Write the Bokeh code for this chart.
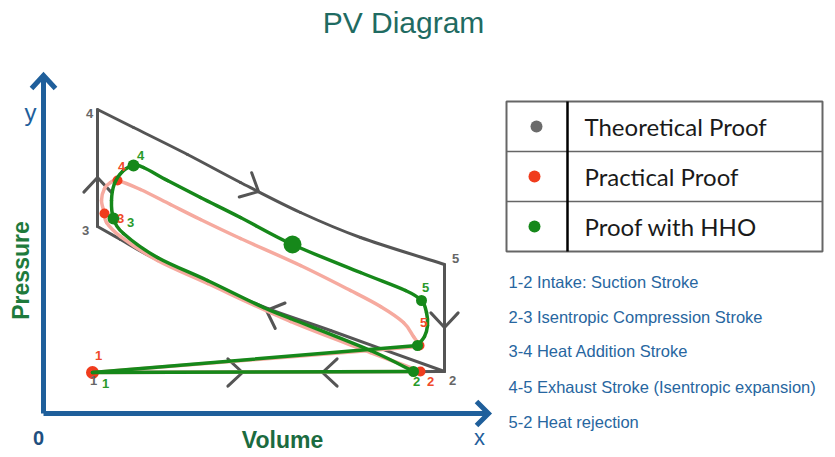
import math
from bokeh.plotting import figure
from bokeh.models import Range1d, ColumnDataSource
from bokeh.core.properties import value
from bokeh.embed import file_html
from bokeh.resources import INLINE

# ---------------- data (volume V, pressure P; arbitrary units) ----------------
# Theoretical proof (gray)
theo_intake_v = [49, 401]
theo_intake_p = [41, 42]
theo_comp_v = [401, 287, 224, 157, 107, 77, 54]
theo_comp_p = [42, 83, 105, 134, 157, 174, 187]
theo_heat_v = [54, 54]
theo_heat_p = [187, 304]
theo_exp_v = [54, 90, 144, 197, 257, 317, 401]
theo_exp_p = [304, 286, 259, 231, 201, 176, 149]
theo_rej_v = [401, 401]
theo_rej_p = [149, 42]
theo_arrow_v = [54, 215, 401, 199, 279, 223]
theo_arrow_p = [236, 222, 86, 41, 41, 103]
theo_arrow_dir = [90, -27, -90, 0, 180, 159]

# Practical proof (salmon / red)
prac_intake_v = [49, 377]
prac_intake_p = [41, 42]
prac_cycle_v = [377, 327, 247, 164, 114, 77, 63, 61, 58, 61, 67, 74, 97, 127, 157, 197, 257, 307, 337, 360, 370, 376]
prac_cycle_p = [42, 61, 92, 130, 153, 177, 191, 200, 213, 225, 231, 233, 224, 209, 194, 175, 148, 123, 107, 91, 77, 68]
prac_exhaust_v = [376, 49]
prac_exhaust_p = [67, 41]
prac_dot_v = [49, 61, 74, 376, 377]
prac_dot_p = [41, 200, 233, 68, 42]

# Proof with HHO (green)
hho_intake_v = [49, 370]
hho_intake_p = [41, 42]
hho_cycle_v = [370, 327, 247, 220, 164, 114, 80, 70, 68, 71, 79, 90, 100, 124, 157, 197, 249, 317, 362, 378, 383, 384, 381, 374]
hho_cycle_p = [42, 63, 95, 106, 133, 156, 180, 195, 213, 230, 242, 248, 246, 233, 216, 196, 169, 141, 123, 113, 101, 88, 77, 68]
hho_exhaust_v = [374, 49]
hho_exhaust_p = [68, 41]
hho_dot_v = [70, 90, 249, 378, 374, 370]
hho_dot_p = [195, 248, 169, 113, 68, 42]

# point labels
point_names = ["1", "2", "3", "4", "5"]
theo_lbl_v = [50, 409, 42, 46, 412]
theo_lbl_p = [33, 33, 183, 300, 155]
prac_lbl_v = [55, 387, 77, 78, 380]
prac_lbl_p = [58, 32, 195, 247, 91]
hho_lbl_v = [62, 373, 87, 97, 382]
hho_lbl_p = [30, 32, 191, 258, 126]

legend_labels = ["Theoretical Proof", "Practical  Proof", "Proof with HHO"]
step_labels = [
    "1-2 Intake: Suction Stroke",
    "2-3 Isentropic Compression Stroke",
    "3-4 Heat Addition Stroke",
    "4-5 Exhaust Stroke (Isentropic expansion)",
    "5-2 Heat rejection",
]

# ---------------- styles ----------------
GRAY = "#555555"
SALMON = "#f6aa9f"
RED = "#f03c1d"
GREEN = "#16881a"
AXIS = "#1f5f9b"
FONT = "Liberation Sans"

p = figure(width=835, height=457, x_range=Range1d(-43, 792), y_range=Range1d(-44, 413),
           output_backend="svg", toolbar_location=None, min_border=0,
           x_axis_type=None, y_axis_type=None)
p.grid.visible = False
p.outline_line_color = None
p.background_fill_color = "white"
p.border_fill_color = "white"


def smooth(v, pr):
    pts = list(zip(v, pr))
    n = len(pts)
    d = dict(x0=[], y0=[], x1=[], y1=[], cx0=[], cy0=[], cx1=[], cy1=[])
    for i in range(n - 1):
        pm = pts[i - 1] if i > 0 else pts[i]
        a = pts[i]
        b = pts[i + 1]
        pn = pts[i + 2] if i + 2 < n else pts[i + 1]
        d["x0"].append(a[0]); d["y0"].append(a[1])
        d["x1"].append(b[0]); d["y1"].append(b[1])
        d["cx0"].append(a[0] + (b[0] - pm[0]) / 6.0)
        d["cy0"].append(a[1] + (b[1] - pm[1]) / 6.0)
        d["cx1"].append(b[0] - (pn[0] - a[0]) / 6.0)
        d["cy1"].append(b[1] - (pn[1] - a[1]) / 6.0)
    return ColumnDataSource(d)


def curve(v, pr, color, width):
    p.bezier(x0="x0", y0="y0", x1="x1", y1="y1", cx0="cx0", cy0="cy0", cx1="cx1", cy1="cy1",
             source=smooth(v, pr), line_color=color, line_width=width, line_cap="round")


def straight(v, pr, color, width):
    p.line(v, pr, line_color=color, line_width=width, line_cap="round", line_join="round")


# ---- axes (arrows) ----
p.line([0, 445], [0, 0], line_color=AXIS, line_width=5)
p.line([0, 0], [0, 338], line_color=AXIS, line_width=5)
p.line([-12, 0, 12], [325, 338, 325], line_color=AXIS, line_width=5, line_join="miter")
p.line([433, 445, 433], [12, 0, -12], line_color=AXIS, line_width=5, line_join="miter")

# ---- theoretical (gray) ----
for v, pr in [(theo_intake_v, theo_intake_p), (theo_heat_v, theo_heat_p), (theo_rej_v, theo_rej_p)]:
    straight(v, pr, GRAY, 3)
curve(theo_comp_v, theo_comp_p, GRAY, 3)
curve(theo_exp_v, theo_exp_p, GRAY, 3)
arm, half = 20, 43
axs, ays = [], []
for v, pr, d in zip(theo_arrow_v, theo_arrow_p, theo_arrow_dir):
    a1 = math.radians(d + 180 - half)
    a2 = math.radians(d + 180 + half)
    axs.append([v + arm * math.cos(a1), v, v + arm * math.cos(a2)])
    ays.append([pr + arm * math.sin(a1), pr, pr + arm * math.sin(a2)])
p.multi_line(axs, ays, line_color=GRAY, line_width=3, line_cap="round")

# ---- practical (salmon) ----
straight(prac_intake_v, prac_intake_p, SALMON, 3.5)
straight(prac_exhaust_v, prac_exhaust_p, SALMON, 3.5)
curve(prac_cycle_v, prac_cycle_p, SALMON, 3.5)
p.scatter(prac_dot_v, prac_dot_p, size=[13, 10, 10, 10, 10], fill_color=RED, line_color=None)

# ---- HHO (green) ----
straight(hho_intake_v, hho_intake_p, GREEN, 3.5)
straight(hho_exhaust_v, hho_exhaust_p, GREEN, 3.5)
curve(hho_cycle_v, hho_cycle_p, GREEN, 3.5)
p.scatter(hho_dot_v, hho_dot_p, size=[12, 12, 18, 11, 11, 11], fill_color=GREEN, line_color=None)

# ---- point labels ----
for lv, lp, col in [(theo_lbl_v, theo_lbl_p, "#666666"), (prac_lbl_v, prac_lbl_p, "#f04a2a"),
                    (hho_lbl_v, hho_lbl_p, "#2a9a2a")]:
    p.text(lv, lp, text=point_names, text_color=col, text_font=value(FONT),
           text_font_size="13px", text_font_style="bold", text_align="center", text_baseline="middle")

# ---- axis labels & title ----
p.text([360], [391], text=["PV Diagram"], text_color="#1f6b62", text_font=value(FONT),
       text_font_size="30px", text_align="center", text_baseline="middle")
p.text([-13], [301], text=["y"], text_color=AXIS, text_font=value(FONT),
       text_font_size="24px", text_align="center", text_baseline="middle")
p.text([436], [-24], text=["x"], text_color=AXIS, text_font=value(FONT),
       text_font_size="22px", text_align="center", text_baseline="middle")
p.text([-5], [-24], text=["0"], text_color="#1f4f80", text_font=value(FONT),
       text_font_size="20px", text_font_style="bold", text_align="center", text_baseline="middle")
p.text([239], [-26], text=["Volume"], text_color="#1b6b40", text_font=value(FONT),
       text_font_size="23px", text_font_style="bold", text_align="center", text_baseline="middle")
p.text([-23], [143], text=["Pressure"], text_color="#1e7a3c", text_font=value(FONT),
       text_font_size="23px", text_font_style="bold", text_align="center", text_baseline="middle",
       angle=math.pi / 2)

# ---- legend table ----
TL, TR, TT, RH, TD = 463, 779, 312, 50, 524
p.quad(left=[TL], right=[TR], top=[TT], bottom=[TT - 3 * RH], fill_color=None,
       line_color="#666666", line_width=2)
p.multi_line([[TL, TR], [TL, TR]], [[TT - RH, TT - RH], [TT - 2 * RH, TT - 2 * RH]],
             line_color="#666666", line_width=1.5)
p.line([TD, TD], [TT, TT - 3 * RH], line_color="black", line_width=2.5)
row_p = [TT - RH / 2 - i * RH for i in range(3)]
p.scatter([493, 491, 491], row_p, size=12, fill_color=["#6b6b6b", RED, GREEN], line_color=None)
p.text([541] * 3, row_p, text=legend_labels, text_color="#1a1a1a", text_font=value("Lato"),
       text_font_size="24px", text_align="left", text_baseline="middle")

# ---- steps ----
step_p = [132, 97, 63, 27, -8]
p.text([465] * 5, step_p, text=step_labels, text_color="#2766a0",
       text_font=value(FONT), text_font_size="16.5px",
       text_align="left", text_baseline="middle")

open("out.html", "w").write(file_html(p, INLINE))
